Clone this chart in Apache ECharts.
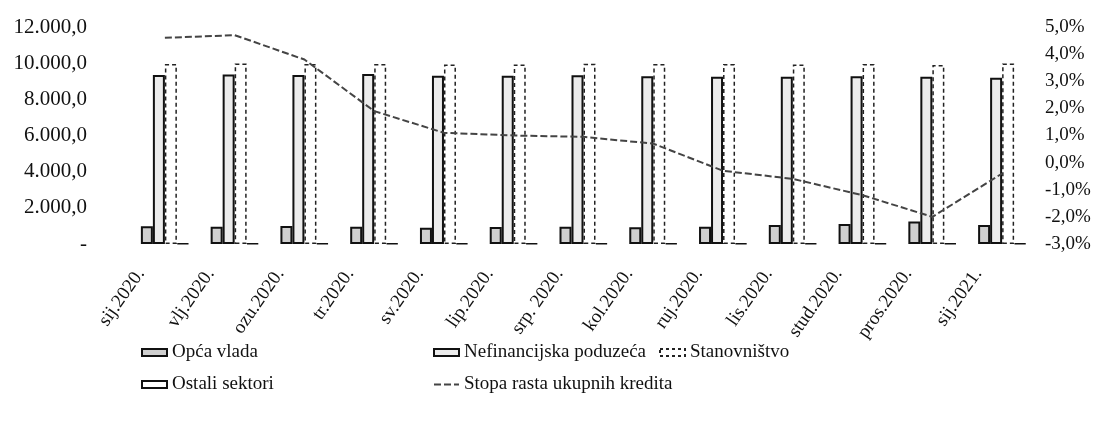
<!DOCTYPE html>
<html>
<head>
<meta charset="utf-8">
<script src="https://cdn.jsdelivr.net/npm/echarts@6/dist/echarts.min.js"></script>
<style>
  html, body { margin: 0; padding: 0; background: #fff; }
  #chart { width: 1111px; height: 431px; }
</style>
</head>
<body>
<div id="chart"></div>
<script>
// mjeseci
const months = ['sij.2020.', 'vlj.2020.', 'ozu.2020.', 'tr.2020.', 'sv.2020.', 'lip.2020.', 'srp. 2020.',
    'kol.2020.', 'ruj.2020.', 'lis.2020.', 'stud.2020.', 'pros.2020.', 'sij.2021.'];

// krediti po sektorima (mil.)
const opcaVlada = [980, 960, 990, 950, 900, 940, 960, 930, 950, 1050, 1100, 1250, 1050];
const nefinancijska = [9350, 9380, 9350, 9400, 9300, 9300, 9330, 9280, 9250, 9250, 9280, 9250, 9200];
const stanovnistvo = [9950, 9980, 9950, 9950, 9920, 9930, 9970, 9950, 9960, 9920, 9960, 9900, 9980];
const ostaliSektori = [40, 40, 40, 40, 40, 40, 40, 40, 40, 40, 40, 40, 40];

// stopa rasta ukupnih kredita (%)
const stopaRasta = [4.6, 4.7, 3.8, 1.9, 1.1, 1.0, 0.95, 0.7, -0.3, -0.6, -1.2, -2.0, -0.4];

const font = '"Liberation Serif", "DejaVu Serif", serif';

const chart = echarts.init(document.getElementById('chart'));

const fmtLeft = function (v) {
    if (v === 0) return '-';
    return v.toFixed(1).replace('.', ',').replace(/\B(?=(\d{3})+(?!\d))/g, '.');
};

const fmtRight = function (v) {
    return v.toFixed(1).replace('.', ',') + '%';
};

const legendText = { fontFamily: font, fontSize: 19, color: '#111' };

const option = {
    animation: false,
    textStyle: { fontFamily: font },
    grid: { left: 130, right: 74, top: 27, bottom: 187 },
    legend: [
        {
            left: 136, top: 338, orient: 'vertical', itemGap: 13,
            itemWidth: 25, itemHeight: 7, icon: 'rect', textStyle: legendText,
            data: ['Opća vlada', 'Ostali sektori']
        },
        {
            left: 428, top: 338, orient: 'vertical', itemGap: 13,
            itemWidth: 25, itemHeight: 7, textStyle: legendText,
            data: [
                { name: 'Nefinancijska poduzeća', icon: 'rect' },
                { name: 'Stopa rasta ukupnih kredita', itemStyle: { opacity: 0 } }
            ]
        },
        {
            left: 654, top: 338, orient: 'vertical',
            itemWidth: 25, itemHeight: 7, icon: 'rect', textStyle: legendText,
            data: [{ name: 'Stanovništvo', itemStyle: { borderType: [3, 3] } }]
        }
    ],
    xAxis: {
        type: 'category',
        data: months,
        axisLine: { show: false },
        axisTick: { show: false },
        axisLabel: {
            rotate: 55,
            interval: 0,
            margin: -8,
            padding: [0, 42, 0, 0],
            fontFamily: font,
            fontSize: 19,
            color: '#111'
        }
    },
    yAxis: [
        {
            type: 'value',
            min: 0, max: 12000, interval: 2000,
            splitLine: { show: false },
            axisLine: { show: false },
            axisTick: { show: false },
            axisLabel: { formatter: fmtLeft, margin: 43, fontFamily: font, fontSize: 21, color: '#111' }
        },
        {
            type: 'value',
            min: -3, max: 5, interval: 1,
            splitLine: { show: false },
            axisLine: { show: false },
            axisTick: { show: false },
            axisLabel: { formatter: fmtRight, margin: 8, fontFamily: font, fontSize: 19, color: '#111' }
        }
    ],
    series: [
        {
            name: 'Opća vlada', type: 'bar', data: opcaVlada,
            barWidth: 12, barGap: '0%',
            itemStyle: { color: '#cfcfcf', borderColor: '#111', borderWidth: 2 }
        },
        {
            name: 'Nefinancijska poduzeća', type: 'bar', data: nefinancijska,
            barWidth: 12, barGap: '0%',
            itemStyle: { color: '#ececec', borderColor: '#111', borderWidth: 2 }
        },
        {
            name: 'Stanovništvo', type: 'bar', data: stanovnistvo,
            barWidth: 12, barGap: '0%',
            itemStyle: { color: '#fff', borderColor: '#222', borderWidth: 1.5, borderType: [4, 3] }
        },
        {
            name: 'Ostali sektori', type: 'bar', data: ostaliSektori,
            barWidth: 12, barGap: '0%',
            itemStyle: { color: '#fff', borderColor: '#111', borderWidth: 1.5 }
        },
        {
            name: 'Stopa rasta ukupnih kredita', type: 'line', yAxisIndex: 1,
            data: stopaRasta,
            symbol: 'none',
            lineStyle: { color: '#444', width: 2, type: [7, 3] },
            itemStyle: { color: '#444' },
            z: 5
        }
    ]
};

chart.setOption(option);
</script>
</body>
</html>
